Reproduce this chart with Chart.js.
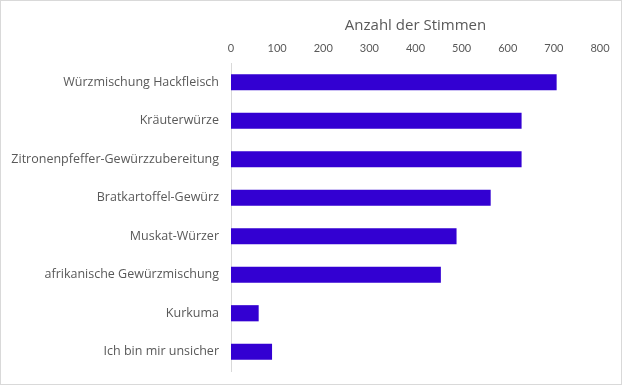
<!DOCTYPE html>
<html>
<head>
<meta charset="utf-8">
<script src="https://cdn.jsdelivr.net/npm/chart.js@4/dist/chart.umd.min.js"></script>
<style>
  html, body { margin: 0; padding: 0; background: #fff; }
  #wrap { width: 620px; height: 383px; border: 1px solid #d9d9d9; position: relative; }
</style>
</head>
<body>
<div id="wrap"><canvas id="myChart" width="620" height="383"></canvas></div>
<script>
const categories = [
  'Würzmischung Hackfleisch',
  'Kräuterwürze',
  'Zitronenpfeffer-Gewürzzubereitung',
  'Bratkartoffel-Gewürz',
  'Muskat-Würzer',
  'afrikanische Gewürzmischung',
  'Kurkuma',
  'Ich bin mir unsicher'
];
const votes = [706, 630, 630, 563, 489, 455, 60, 89];
const axisTitle = 'Anzahl der Stimmen';
const xMin = 0;
const xMax = 800;
const xStep = 100;

const ctx = document.getElementById('myChart').getContext('2d');
const myChart = new Chart(ctx, {
  type: 'bar',
  data: {
    labels: categories,
    datasets: [{
      label: axisTitle,
      data: votes,
      backgroundColor: '#3300d2',
      borderWidth: 0,
      barPercentage: 0.42,
      categoryPercentage: 1
    }]
  },
  options: {
    indexAxis: 'y',
    responsive: false,
    animation: false,
    layout: { padding: { left: 0, right: 21, top: 0, bottom: 13 } },
    plugins: {
      legend: { display: false },
      tooltip: { enabled: false }
    },
    scales: {
      x: {
        position: 'top',
        min: xMin,
        max: xMax,
        ticks: {
          stepSize: xStep,
          color: '#595959',
          font: { family: 'Lato', size: 11 },
          padding: 8
        },
        grid: { display: false, drawTicks: false },
        border: { display: false },
        title: {
          display: true,
          text: axisTitle,
          color: '#595959',
          font: { family: 'Open Sans', size: 15 },
          padding: { top: 16, bottom: 3 }
        },
        afterFit: s => { s.height = 62; s.paddingLeft = 0; s.paddingRight = 0; }
      },
      y: {
        ticks: {
          color: '#595959',
          font: { family: 'Open Sans', size: 12.5 },
          padding: 12
        },
        grid: { display: false, drawTicks: false },
        border: { display: true, color: '#d9d9d9', width: 1 },
        afterFit: s => { s.width = 230; s.paddingTop = 0; s.paddingBottom = 0; }
      }
    }
  }
});
</script>
</body>
</html>
